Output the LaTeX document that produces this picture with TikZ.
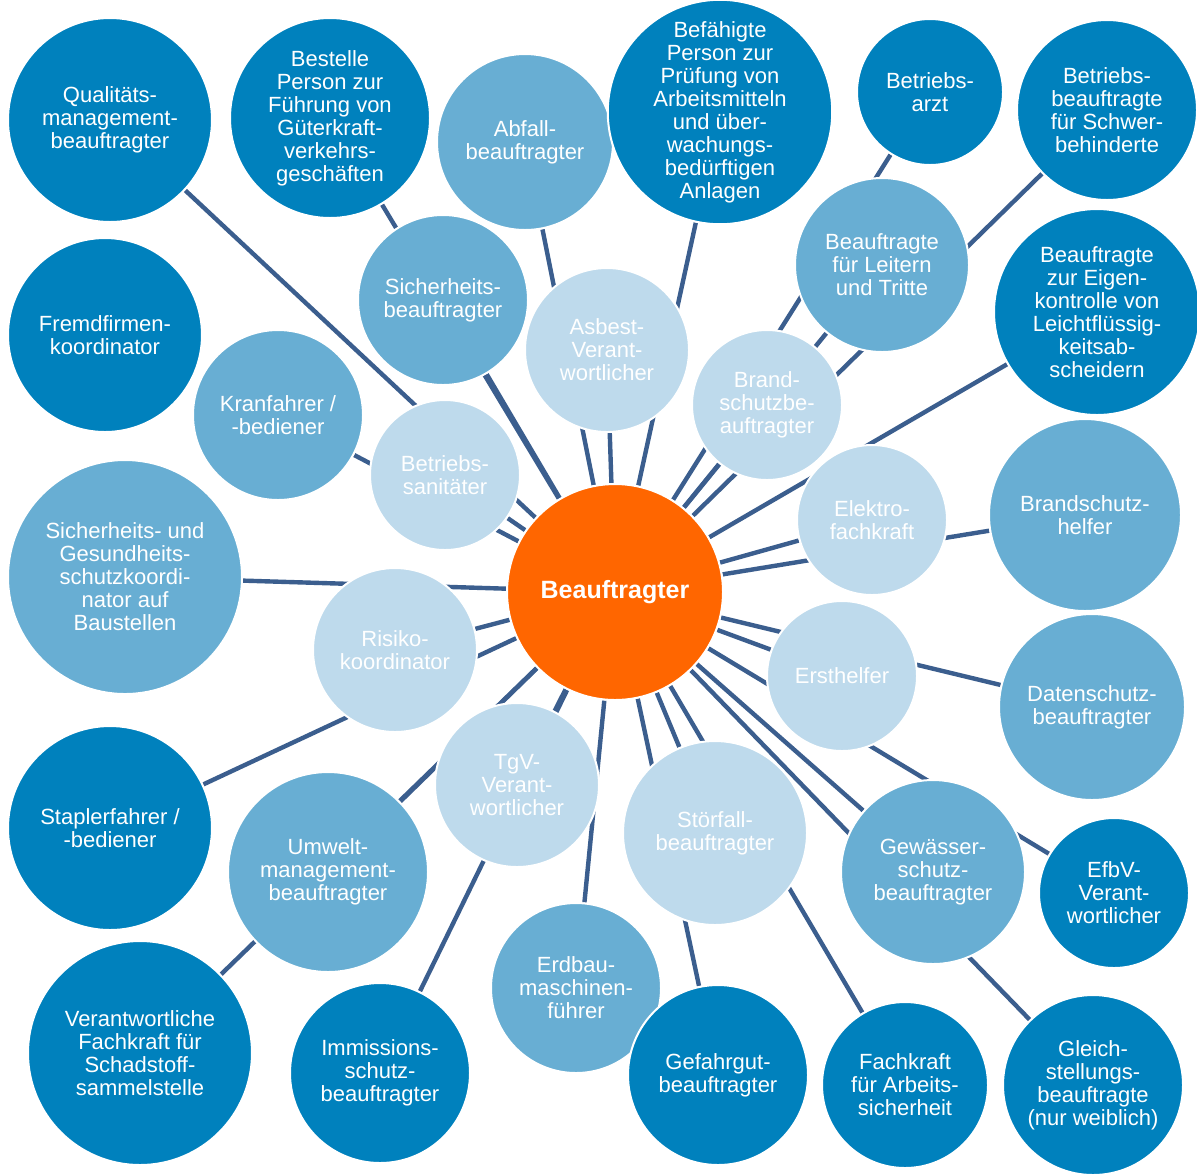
\documentclass[tikz,border=0pt]{standalone}
\usepackage{fontspec}
\setmainfont{Liberation Sans}
\usetikzlibrary{backgrounds}
\definecolor{bubdark}{RGB}{0,129,189}
\definecolor{bubmid}{RGB}{104,174,211}
\definecolor{bublight}{RGB}{190,218,236}
\definecolor{bubcore}{RGB}{255,102,0}
\definecolor{linkcolor}{RGB}{59,94,142}
\newcommand{\bubfont}{\fontsize{11}{11.5}\selectfont}
\tikzset{
	bub/.style={circle,draw=white,line width=1pt,inner sep=0pt,minimum size=#1pt,
		text=white,align=center,font=\bubfont},
	dark/.style={fill=bubdark},
	mid/.style={fill=bubmid},
	light/.style={fill=bublight},
	link/.style={draw=linkcolor,line width=2.2pt}
}

\begin{document}
\begin{tikzpicture}[x=0.5pt,y=0.5pt,yscale=-1]

\useasboundingbox (0,0) rectangle (1197,1174);

% centre
\node [bub=108,fill=bubcore,font=\bfseries\fontsize{12.5}{14}\selectfont] (ctr) at (615,592) {Beauftragter};

% top
\node [bub=102,dark] (qm) at (110,120) {Qualitäts-\\management-\\beauftragter};
\node [bub=100,dark] (gkv) at (330,118) {Bestelle\\Person zur\\Führung von\\Güterkraft-\\verkehrs-\\geschäften};
\node [bub=88,mid] (abfall) at (525,142) {Abfall-\\beauftragter};
\node [bub=112,dark] (bp) at (720,112) {Befähigte\\Person zur\\Prüfung von\\Arbeitsmitteln\\und über-\\wachungs-\\bedürftigen\\Anlagen};
\node [bub=73,dark] (arzt) at (930,92) {Betriebs-\\arzt};
\node [bub=90,dark] (sbv) at (1107,110) {Betriebs-\\beauftragte\\für Schwer-\\behinderte};
\node [bub=87,mid] (leiter) at (882,265) {Beauftragte\\für Leitern\\und Tritte};
\node [bub=103,dark] (lfa) at (1097,312) {Beauftragte\\zur Eigen-\\kontrolle von\\Leichtflüssig-\\keitsab-\\scheidern};
\node [bub=85,mid] (sib) at (443,300) {Sicherheits-\\beauftragter};
\node [bub=82,light] (asbest) at (607,350) {Asbest-\\Verant-\\wortlicher};
\node [bub=75,light] (bsb) at (767,405) {Brand-\\schutzbe-\\auftragter};

% middle
\node [bub=97,dark] (fremd) at (105,335) {Fremdfirmen-\\koordinator};
\node [bub=85,mid] (kran) at (278,415) {Kranfahrer /\\-bediener};
\node [bub=75,light] (san) at (445,475) {Betriebs-\\sanitäter};
\node [bub=75,light] (elektro) at (872,520) {Elektro-\\fachkraft};
\node [bub=96,mid] (bsh) at (1085,515) {Brandschutz-\\helfer};
\node [bub=117,mid] (sigeko) at (125,577) {Sicherheits- und\\Gesundheits-\\schutzkoordi-\\nator auf\\Baustellen};
\node [bub=82,light] (risiko) at (395,650) {Risiko-\\koordinator};
\node [bub=75,light] (ersth) at (842,676) {Ersthelfer};
\node [bub=93,mid] (dsb) at (1092,707) {Datenschutz-\\beauftragter};

% bottom
\node [bub=102,dark] (stapler) at (110,828) {Staplerfahrer /\\-bediener};
\node [bub=100,mid] (umwelt) at (328,872) {Umwelt-\\management-\\beauftragter};
\node [bub=82,light] (tgv) at (517,785) {TgV-\\Verant-\\wortlicher};
\node [bub=92,light] (stoer) at (715,833) {Störfall-\\beauftragter};
\node [bub=92,mid] (gsb) at (933,872) {Gewässer-\\schutz-\\beauftragter};
\node [bub=75,dark] (efbv) at (1114,893) {EfbV-\\Verant-\\wortlicher};
\node [bub=112,dark] (schad) at (140,1053) {Verantwortliche\\Fachkraft für\\Schadstoff-\\sammelstelle};
\node [bub=90,dark] (imm) at (380,1073) {Immissions-\\schutz-\\beauftragter};
\node [bub=85,mid] (erdbau) at (576,988) {Erdbau-\\maschinen-\\führer};
\node [bub=90,dark] (gefahr) at (718,1075) {Gefahrgut-\\beauftragter};
\node [bub=83,dark] (fasi) at (905,1085) {Fachkraft\\für Arbeits-\\sicherheit};
\node [bub=90,dark] (gleich) at (1093,1085) {Gleich-\\stellungs-\\beauftragte\\(nur weiblich)};

% spokes, behind the bubbles
\begin{pgfonlayer}{background}
\fill [white] (0,0) rectangle (1197,1174);
\foreach \n in {qm,gkv,abfall,bp,arzt,sbv,leiter,lfa,sib,asbest,bsb,
	kran,san,elektro,bsh,sigeko,risiko,ersth,dsb,
	stapler,umwelt,tgv,stoer,gsb,efbv,schad,imm,erdbau,gefahr,fasi,gleich}
	\draw [link] (ctr) -- (\n);
\end{pgfonlayer}

\end{tikzpicture}
\end{document}
